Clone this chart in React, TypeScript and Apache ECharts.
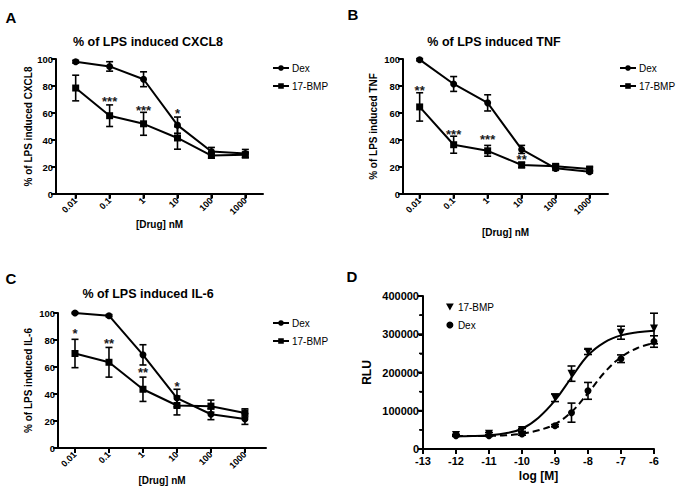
import React, { useEffect, useRef } from "react";
import * as echarts from "echarts";

// ---------- Data ----------
const doses = [0.01, 0.1, 1, 10, 100, 1000];
const doseLabels = ["0.01", "0.1", "1", "10", "100", "1000"];

// Panel A – % of LPS induced CXCL8
const cxcl8Dex = [98, 94.5, 85, 51, 31.5, 30];
const cxcl8DexErr = [1, 3.5, 5.5, 6, 3, 3];
const cxcl8Bmp = [78.5, 58, 52, 41.5, 28.5, 29];
const cxcl8BmpErr = [9.5, 8, 8.5, 8.3, 2, 2];
const cxcl8Stars = ["", "***", "***", "*", "", ""];
const cxcl8StarY = [0, 70.5, 64, 62, 0, 0];

// Panel B – % of LPS induced TNF
const tnfDex = [99.5, 81.5, 67.5, 33, 19, 16.5];
const tnfDexErr = [0.8, 5.5, 6, 3, 1.5, 1];
const tnfBmp = [64.5, 36.5, 32, 21.5, 20.5, 18.5];
const tnfBmpErr = [10.5, 6.3, 4, 2, 1.5, 1.5];
const tnfStars = ["**", "***", "***", "**", "", ""];
const tnfStarY = [79, 46.5, 42.5, 28, 0, 0];

// Panel C – % of LPS induced IL-6
const il6Dex = [100, 98, 69, 37, 25, 21.5];
const il6DexErr = [0.5, 0.8, 7.5, 6.5, 4, 4];
const il6Bmp = [70, 63.5, 43.5, 31.5, 31, 26];
const il6BmpErr = [10.5, 11, 9, 7, 4.5, 3];
const il6Stars = ["*", "**", "**", "*", "", ""];
const il6StarY = [87, 80, 58, 47.5, 0, 0];

// Panel D – RLU vs log [M]
const logM = [-12, -11, -10, -9, -8.5, -8, -7, -6];
const bmpRlu = [36500, 40000, 50000, 134000, 197000, 254000, 304000, 315000];
const bmpRluErr = [2000, 3000, 4000, 10000, 20000, 7000, 17000, 40000];
const dexRlu = [35000, 35000, 39000, 61000, 95000, 152000, 236000, 281000];
const dexRluErr = [2000, 2000, 3000, 3000, 25000, 22000, 10000, 15000];
const curveX = [-12, -11.5, -11, -10.5, -10, -9.5, -9, -8.5, -8, -7.5, -7, -6.5, -6];
const bmpCurve = [33500, 34000, 36000, 41000, 53000, 82000, 127000, 187000, 245000, 279000, 297000, 305000, 309000];
const dexCurve = [33500, 34000, 34500, 36000, 40000, 49000, 65000, 97000, 146000, 200000, 240000, 264000, 277000];

const panelTitles = ["% of LPS induced CXCL8", "% of LPS induced TNF", "% of LPS induced IL-6"];
const yNames = ["% of LPS induced CXCL8", "% of LPS induced TNF", "% of LPS induced IL-6"];
const panelLetters = ["A", "B", "C", "D"];

// ---------- Axis ranges & ticks ----------
const xRanges = [
  [-2.58, 3.52],
  [-2.49, 3.54],
  [-2.5, 3.62],
  [-13, -6],
];
const yRanges = [
  [0, 100],
  [0, 100],
  [0, 100],
  [0, 400000],
];
const pctTicks = [0, 20, 40, 60, 80, 100];
const logMTicks = [-13, -12, -11, -10, -9, -8, -7, -6];
const rluTicks = [0, 100000, 200000, 300000, 400000];
const rluMinorTicks = [50000, 150000, 250000, 350000];

// ---------- Helpers ----------
const doseLog = doses.map((d) => Math.log10(d));
const FONT = "Liberation Sans, Arial, sans-serif";
const BLACK = "#000";

function doseLabel(v: number) {
  const i = doseLog.findIndex((d) => Math.abs(d - v) < 1e-6);
  return i >= 0 ? doseLabels[i] : "";
}

function mkAxisLine() {
  return {
    show: true,
    onZero: false,
    symbol: ["none", "none"],
    lineStyle: { color: BLACK, width: 2, type: "solid", opacity: 1 },
  };
}

function errSeries(g: number, xs: number[], ys: number[], es: number[], cap = 3.5) {
  return {
    type: "custom",
    xAxisIndex: g,
    yAxisIndex: g,
    silent: true,
    z: 3,
    data: xs.map((x, i) => [x, ys[i] - es[i], ys[i] + es[i]]),
    encode: { x: 0, y: [1, 2] },
    renderItem: (_p: any, api: any) => {
      const x = api.value(0);
      const hi = api.coord([x, api.value(2)]);
      const lo = api.coord([x, api.value(1)]);
      const st = { stroke: BLACK, lineWidth: 1.6 };
      return {
        type: "group",
        children: [
          { type: "line", shape: { x1: hi[0], y1: hi[1], x2: lo[0], y2: lo[1] }, style: st },
          { type: "line", shape: { x1: hi[0] - cap, y1: hi[1], x2: hi[0] + cap, y2: hi[1] }, style: st },
          { type: "line", shape: { x1: lo[0] - cap, y1: lo[1], x2: lo[0] + cap, y2: lo[1] }, style: st },
        ],
      };
    },
  };
}

function starSeries(g: number, xs: number[], ys: number[], labels: string[]) {
  return {
    type: "scatter",
    xAxisIndex: g,
    yAxisIndex: g,
    silent: true,
    symbolSize: 1,
    itemStyle: { color: "#fff", opacity: 0 },
    z: 5,
    data: xs
      .map((x, i) => (labels[i] ? { value: [x, ys[i]], name: labels[i] } : null))
      .filter(Boolean),
    label: {
      show: true,
      position: "inside",
      formatter: "{b}",
      color: "#1a1a1a",
      opacity: 1,
      fontSize: 13,
      fontWeight: "bold",
      fontFamily: FONT,
      offset: [0, 3],
    },
  };
}

function lineSeries(g: number, name: string, xs: number[], ys: number[], symbol: string) {
  return {
    type: "line",
    name,
    xAxisIndex: g,
    yAxisIndex: g,
    data: xs.map((x, i) => [x, ys[i]]),
    symbol,
    symbolSize: 7,
    showSymbol: true,
    lineStyle: { color: BLACK, width: 2 },
    itemStyle: { color: BLACK, borderWidth: 0 },
    z: 4,
  };
}

function doseXAxis(g: number, nameGap: number) {
  return {
    type: "value",
    gridIndex: g,
    min: xRanges[g][0],
    max: xRanges[g][1],
    axisLine: mkAxisLine(),
    splitLine: { show: false },
    axisTick: { show: true, customValues: doseLog, length: 4, lineStyle: { color: BLACK, width: 2 } },
    axisLabel: {
      customValues: doseLog,
      formatter: (v: number) => doseLabel(v),
      rotate: 45,
      margin: 5,
      color: BLACK,
      fontSize: 9,
      fontWeight: "bold",
      fontFamily: FONT,
    },
    name: "[Drug] nM",
    nameLocation: "middle",
    nameGap,
    nameTextStyle: { color: BLACK, fontSize: 10, fontWeight: "bold", fontFamily: FONT },
  };
}

function pctYAxis(g: number, name: string, nameGap: number) {
  return {
    type: "value",
    gridIndex: g,
    min: yRanges[g][0],
    max: yRanges[g][1],
    interval: 20,
    axisLine: mkAxisLine(),
    splitLine: { show: false },
    axisTick: { show: true, length: 3, lineStyle: { color: BLACK, width: 2 } },
    axisLabel: { margin: 3, color: BLACK, fontSize: 9.5, fontWeight: "bold", fontFamily: FONT },
    name,
    nameLocation: "middle",
    nameRotate: 90,
    nameGap,
    nameTextStyle: { color: BLACK, fontSize: 10, fontWeight: "bold", fontFamily: FONT },
  };
}

function legendFor(prefix: string, names: string[], left: number, top: number, itemWidth: number, icons?: string[]) {
  return {
    data: names.map((n, i) => (icons && icons[i] ? { name: prefix + n, icon: icons[i] } : prefix + n)),
    formatter: (n: string) => n.slice(prefix.length),
    left,
    top,
    orient: "vertical",
    itemWidth,
    itemHeight: 7,
    itemGap: 8,
    selectedMode: false,
    padding: 0,
    textStyle: { color: BLACK, fontSize: 10, fontFamily: FONT, padding: [0, 0, 0, -2] },
  };
}

export default function App() {
  const ref = useRef<HTMLDivElement>(null);
  useEffect(() => {
    if (!ref.current) return;
    const chart = echarts.init(ref.current, undefined, { renderer: "svg" });

    const textEl = (text: string, x: number, y: number, font: string) => ({
      type: "text",
      x,
      y,
      silent: true,
      style: { text, font, fill: BLACK, textAlign: "center", textVerticalAlign: "middle" },
    });

    const option: any = {
      animation: false,
      backgroundColor: "#fff",
      grid: [
        { left: 56, top: 59, width: 207, height: 135 },
        { left: 403, top: 59, width: 205, height: 135 },
        { left: 58, top: 313, width: 208, height: 135 },
        { left: 423, top: 296, width: 231, height: 153 },
      ],
      xAxis: [
        doseXAxis(0, 23),
        doseXAxis(1, 33),
        doseXAxis(2, 27),
        {
          type: "value",
          gridIndex: 3,
          min: xRanges[3][0],
          max: xRanges[3][1],
          interval: 1,
          axisLine: mkAxisLine(),
          splitLine: { show: false },
          axisTick: { show: true, length: 4, lineStyle: { color: BLACK, width: 2 } },
          axisLabel: { margin: 6, color: BLACK, fontSize: 11, fontWeight: "bold", fontFamily: FONT },
          name: "log [M]",
          nameLocation: "middle",
          nameGap: 21,
          nameTextStyle: { color: BLACK, fontSize: 12, fontWeight: "bold", fontFamily: FONT },
        },
      ],
      yAxis: [
        pctYAxis(0, yNames[0], 23),
        pctYAxis(1, yNames[1], 25),
        pctYAxis(2, yNames[2], 25),
        {
          type: "value",
          gridIndex: 3,
          min: yRanges[3][0],
          max: yRanges[3][1],
          interval: 100000,
          axisLine: mkAxisLine(),
          splitLine: { show: false },
          axisTick: { show: true, length: 4, lineStyle: { color: BLACK, width: 2 } },
          minorTick: { show: true, splitNumber: 2, length: 3, lineStyle: { color: BLACK, width: 1.5 } },
          axisLabel: {
            margin: 4,
            color: BLACK,
            fontSize: 11,
            fontWeight: "bold",
            fontFamily: FONT,
            formatter: (v: number) => String(v),
          },
          name: "RLU",
          nameLocation: "middle",
          nameRotate: 90,
          nameGap: 50,
          nameTextStyle: { color: BLACK, fontSize: 12, fontWeight: "bold", fontFamily: FONT },
        },
      ],
      legend: [
        legendFor("A-", ["Dex", "17-BMP"], 272, 63, 16),
        legendFor("B-", ["Dex", "17-BMP"], 619, 63, 16),
        legendFor("C-", ["Dex", "17-BMP"], 272, 318, 16),
        legendFor("D-", ["17-BMP", "Dex"], 446, 302, 10, ["path://M0,0 L10,0 L5,9 Z", "circle"]),
      ],
      series: [
        // A
        lineSeries(0, "A-Dex", doseLog, cxcl8Dex, "circle"),
        lineSeries(0, "A-17-BMP", doseLog, cxcl8Bmp, "rect"),
        errSeries(0, doseLog, cxcl8Dex, cxcl8DexErr),
        errSeries(0, doseLog, cxcl8Bmp, cxcl8BmpErr),
        starSeries(0, doseLog, cxcl8StarY, cxcl8Stars),
        // B
        lineSeries(1, "B-Dex", doseLog, tnfDex, "circle"),
        lineSeries(1, "B-17-BMP", doseLog, tnfBmp, "rect"),
        errSeries(1, doseLog, tnfDex, tnfDexErr),
        errSeries(1, doseLog, tnfBmp, tnfBmpErr),
        starSeries(1, doseLog, tnfStarY, tnfStars),
        // C
        lineSeries(2, "C-Dex", doseLog, il6Dex, "circle"),
        lineSeries(2, "C-17-BMP", doseLog, il6Bmp, "rect"),
        errSeries(2, doseLog, il6Dex, il6DexErr),
        errSeries(2, doseLog, il6Bmp, il6BmpErr),
        starSeries(2, doseLog, il6StarY, il6Stars),
        // D curves
        {
          type: "line",
          xAxisIndex: 3,
          yAxisIndex: 3,
          data: curveX.map((x, i) => [x, bmpCurve[i]]),
          smooth: 0.4,
          showSymbol: false,
          symbol: "none",
          silent: true,
          lineStyle: { color: BLACK, width: 2 },
          z: 2,
        },
        {
          type: "line",
          xAxisIndex: 3,
          yAxisIndex: 3,
          data: curveX.map((x, i) => [x, dexCurve[i]]),
          smooth: 0.4,
          showSymbol: false,
          symbol: "none",
          silent: true,
          lineStyle: { color: BLACK, width: 2, type: [7, 4] },
          z: 2,
        },
        {
          type: "scatter",
          name: "D-17-BMP",
          xAxisIndex: 3,
          yAxisIndex: 3,
          data: logM.map((x, i) => [x, bmpRlu[i]]),
          symbol: "triangle",
          symbolRotate: 180,
          symbolSize: 8,
          itemStyle: { color: BLACK, opacity: 1 },
          z: 4,
        },
        {
          type: "scatter",
          name: "D-Dex",
          xAxisIndex: 3,
          yAxisIndex: 3,
          data: logM.map((x, i) => [x, dexRlu[i]]),
          symbol: "circle",
          symbolSize: 7,
          itemStyle: { color: BLACK, opacity: 1 },
          z: 4,
        },
        errSeries(3, logM, bmpRlu, bmpRluErr, 4),
        errSeries(3, logM, dexRlu, dexRluErr, 4),
      ],
    };
    chart.setOption(option);

    // Axis frames and ticks, positioned through each grid's own scales
    const frame: any[] = [];
    const rect = (x: number, y: number, w: number, h: number) => ({
      type: "rect",
      silent: true,
      z: 100,
      shape: { x, y, width: w, height: h },
      style: { fill: BLACK },
    });
    const px = (g: number, v: number[]) => chart.convertToPixel({ gridIndex: g } as any, v) as number[];
    for (let g = 0; g < 4; g++) {
      const [x0, x1] = xRanges[g];
      const [y0, y1] = yRanges[g];
      const p00 = px(g, [x0, y0]);
      const p10 = px(g, [x1, y0]);
      const p01 = px(g, [x0, y1]);
      if (!p00 || !p10 || !p01) continue;
      frame.push(rect(p00[0] - 1, p00[1] - 1, p10[0] - p00[0] + 1, 2));
      frame.push(rect(p00[0] - 1, p01[1], 2, p00[1] - p01[1] + 1));
      const xt = g < 3 ? doseLog : logMTicks;
      xt.forEach((v) => {
        const p = px(g, [v, y0]);
        frame.push(rect(p[0] - 1, p00[1], 2, 5));
      });
      const yt = g < 3 ? pctTicks : rluTicks;
      yt.forEach((v) => {
        const p = px(g, [x0, v]);
        frame.push(rect(p00[0] - 5, p[1] - 1, 5, 2));
      });
      if (g === 3) {
        rluMinorTicks.forEach((v) => {
          const p = px(g, [x0, v]);
          frame.push(rect(p00[0] - 4, p[1] - 0.75, 4, 1.5));
        });
      }
    }

    chart.setOption({
      graphic: {
        elements: [
          textEl(panelLetters[0], 11, 17, `bold 15px ${FONT}`),
          textEl(panelLetters[1], 353, 14, `bold 15px ${FONT}`),
          textEl(panelLetters[2], 11, 278, `bold 15px ${FONT}`),
          textEl(panelLetters[3], 352, 276, `bold 15px ${FONT}`),
          textEl(panelTitles[0], 148, 42, `bold 12.5px ${FONT}`),
          textEl(panelTitles[1], 494, 42, `bold 12.5px ${FONT}`),
          textEl(panelTitles[2], 148, 294, `bold 12.5px ${FONT}`),
          ...frame,
        ],
      },
    });
    return () => chart.dispose();
  }, []);

  return (
    <div
      ref={ref}
      style={{ position: "absolute", left: 0, top: 0, width: 686, height: 497, background: "#fff" }}
    />
  );
}
